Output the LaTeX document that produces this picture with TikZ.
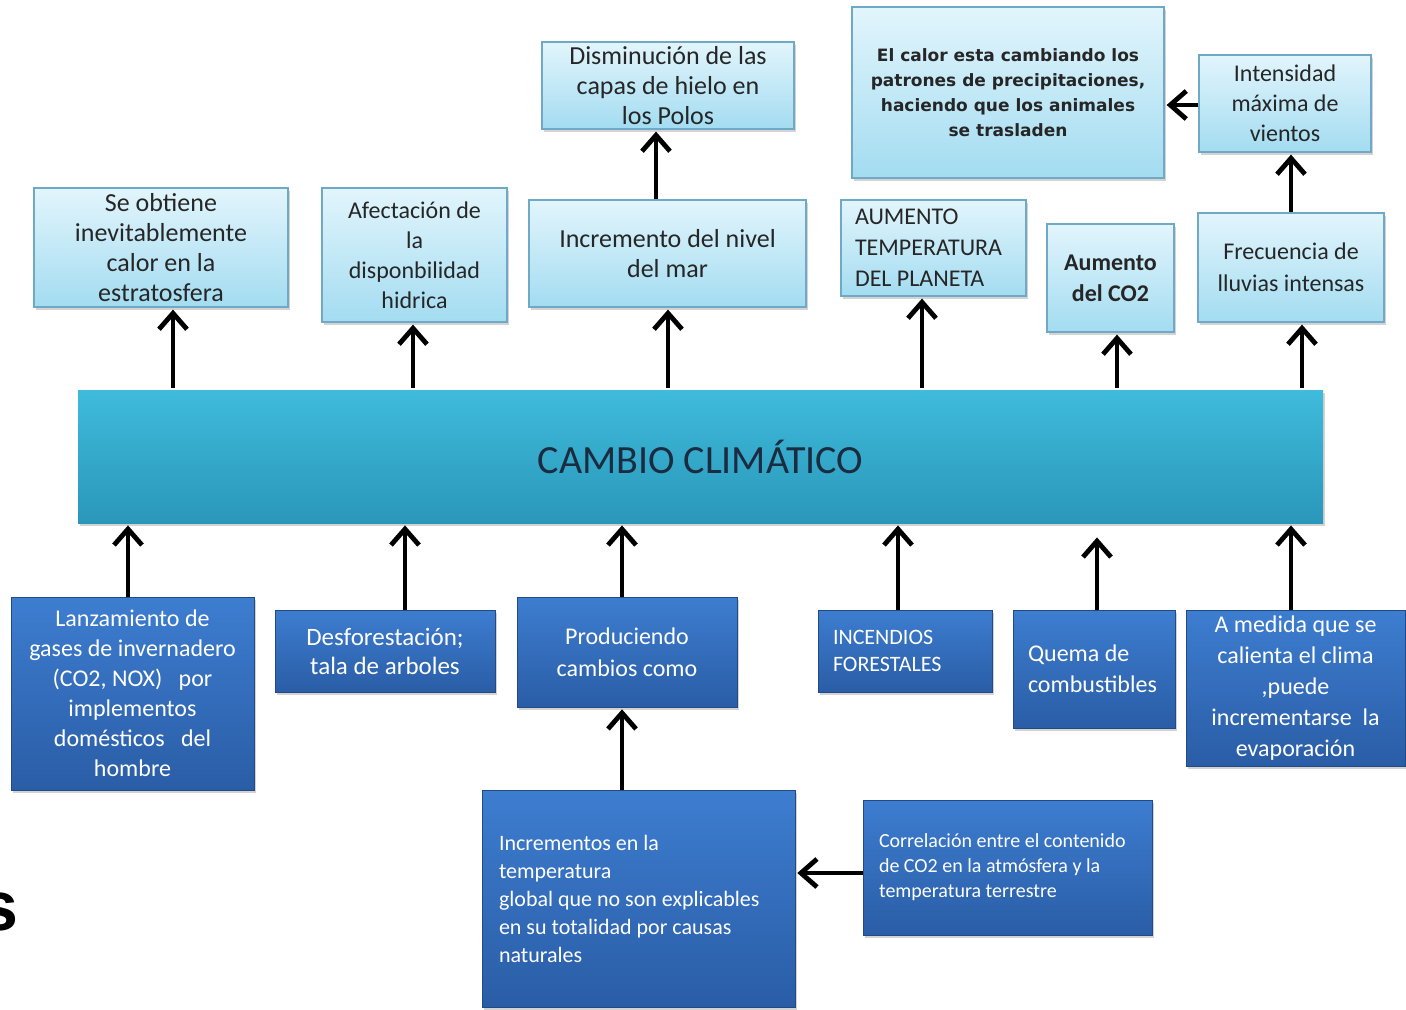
\documentclass[tikz,border=0pt]{standalone}
\usepackage{fontspec}
\setmainfont{Carlito}
\newfontfamily\dvsans{DejaVu Sans}
\newfontfamily\libsans{Liberation Sans}
\usetikzlibrary{shadows,arrows.meta}
\definecolor{lbtop}{HTML}{E2F5FC}
\definecolor{lbbot}{HTML}{A3DCF1}
\definecolor{lbdraw}{HTML}{6FA9C6}
\definecolor{cctop}{HTML}{3FBBDB}
\definecolor{ccbot}{HTML}{2A97BA}
\definecolor{dbtop}{HTML}{3D7DD0}
\definecolor{dbbot}{HTML}{2A5DA6}
\definecolor{txt}{HTML}{262626}
\definecolor{navy}{HTML}{1B2B40}
\tikzset{
  shad/.style={drop shadow={shadow xshift=1pt, shadow yshift=-1.5pt, opacity=0.35}},
  bx/.style n args={4}{anchor=center, at={({(#1+#3)/2},{(#2+#4)/2})}, minimum width={(#3-#1)*0.5pt}, minimum height={(#4-#2)*0.5pt}},
  lbox/.style={shad, draw=lbdraw, line width=0.6pt, top color=lbtop, bottom color=lbbot, inner sep=0pt, text=txt, align=center},
  dbox/.style={shad, draw=dbbot!80!black, line width=0.3pt, top color=dbtop, bottom color=dbbot, inner sep=0pt, text=white, align=center},
  cbox/.style={shad, top color=cctop, bottom color=ccbot, inner sep=0pt, text=navy},
  fs/.style 2 args={font=\fontsize{#1}{#2}\selectfont},
  arr/.style={line width=2.4pt, -{Straight Barb[length=8pt,width=14pt,line width=2.4pt]}, shorten >=1pt}
}
\newcommand\lft[2]{\parbox{#1}{\raggedright #2}}
\begin{document}
\begin{tikzpicture}[x=0.5pt,y=-0.5pt]
\useasboundingbox (0,0) rectangle (1406,1009);
% central
\node[cbox, bx={78}{390}{1323}{523}, fs={20}{24}] (cc) {CAMBIO CLIMÁTICO};
% top row
\node[lbox, bx={34}{188}{288}{307}, fs={13}{15}] (n1) {Se obtiene\\inevitablemente\\calor en la\\estratosfera};
\node[lbox, bx={322}{188}{507}{322}, fs={12}{15}] (n2) {Afectación de\\la\\disponbilidad\\hidrica};
\node[lbox, bx={542}{42}{794}{129}, fs={13}{15}] (n3) {Disminución de las\\capas de hielo en\\los Polos};
\node[lbox, bx={529}{200}{806}{307}, fs={13}{15}] (n4) {Incremento del nivel\\del mar};
\node[lbox, bx={852}{7}{1164}{178}, font=\dvsans\bfseries\fontsize{8.5}{12.5}\selectfont] (n5) {El calor esta cambiando los\\patrones de precipitaciones,\\haciendo que los animales\\se trasladen};
\node[lbox, bx={1199}{55}{1371}{152}, fs={12}{15}] (n6) {Intensidad\\máxima de\\vientos};
\node[lbox, bx={841}{200}{1026}{296}, fs={12}{15.5}] (n7) {\lft{78.5pt}{AUMENTO\\TEMPERATURA\\DEL PLANETA}};
\node[lbox, bx={1047}{224}{1174}{332}, font=\bfseries\fontsize{12}{15.5}\selectfont] (n8) {Aumento\\del CO2};
\node[lbox, bx={1198}{213}{1384}{322}, fs={12}{16}] (n9) {Frecuencia de\\lluvias intensas};
% bottom row
\node[dbox, bx={11}{597}{254}{790}, fs={12}{15}] (n10) {Lanzamiento de\\gases de invernadero\\(CO2, NOX) \ \ por\\implementos\\domésticos \ \ del\\hombre};
\node[dbox, bx={275}{610}{495}{692}, fs={12.5}{14.5}] (n11) {Desforestación;\\tala de arboles};
\node[dbox, bx={517}{597}{737}{707}, fs={12}{16}] (n12) {Produciendo\\cambios como};
\node[dbox, bx={818}{610}{992}{692}, fs={11}{13.5}] (n13) {\lft{72pt}{INCENDIOS\\FORESTALES}};
\node[dbox, bx={1013}{610}{1175}{728}, fs={12}{15.5}] (n14) {\lft{66pt}{Quema de\\combustibles}};
\node[dbox, bx={1186}{610}{1405}{766}, fs={12}{15.5}] (n15) {A medida que se\\calienta el clima\\,puede\\incrementarse \ la\\evaporación};
\node[dbox, bx={482}{790}{795}{1007}, fs={11}{14}] (n16) {\lft{139.5pt}{Incrementos en la\\temperatura\\global que no son explicables\\en su totalidad por causas\\naturales}};
\node[dbox, bx={863}{800}{1152}{935}, fs={10}{12.5}] (n17) {\lft{128.5pt}{Correlación entre el contenido\\de CO2 en la atmósfera y la\\temperatura terrestre}};
% stray letter
\node[font=\libsans\bfseries\fontsize{35}{40}\selectfont, anchor=base west, inner sep=0pt] (s) at (-21,930) {s};
% arrows up from central
\draw[arr] ([yshift=1pt]cc.north -| 173,0) -- (n1.south -| 173,0);
\draw[arr] ([yshift=1pt]cc.north -| 413,0) -- (n2.south -| 413,0);
\draw[arr] ([yshift=1pt]cc.north -| 668,0) -- (n4.south -| 668,0);
\draw[arr] ([yshift=1pt]cc.north -| 922,0) -- (n7.south -| 922,0);
\draw[arr] ([yshift=1pt]cc.north -| 1117,0) -- (n8.south -| 1117,0);
\draw[arr] ([yshift=1pt]cc.north -| 1302,0) -- (n9.south -| 1302,0);
\draw[arr] (n4.north -| 656,0) -- (n3.south -| 656,0);
\draw[arr] (n9.north -| 1291,0) -- (n6.south -| 1291,0);
\draw[arr] (n6.west |- 0,105) -- (n5.east |- 0,105);
% arrows up into central
\draw[arr] (n10.north -| 128,0) -- (cc.south -| 128,0);
\draw[arr] (n11.north -| 405,0) -- (cc.south -| 405,0);
\draw[arr] (n12.north -| 622,0) -- (cc.south -| 622,0);
\draw[arr] (n13.north -| 898,0) -- (cc.south -| 898,0);
\draw[arr, shorten >=7pt] (n14.north -| 1097,0) -- (cc.south -| 1097,0);
\draw[arr] (n15.north -| 1291,0) -- (cc.south -| 1291,0);
\draw[arr] (n16.north -| 622,0) -- (n12.south -| 622,0);
\draw[arr] (n17.west |- 0,873) -- (n16.east |- 0,873);
\end{tikzpicture}
\end{document}
